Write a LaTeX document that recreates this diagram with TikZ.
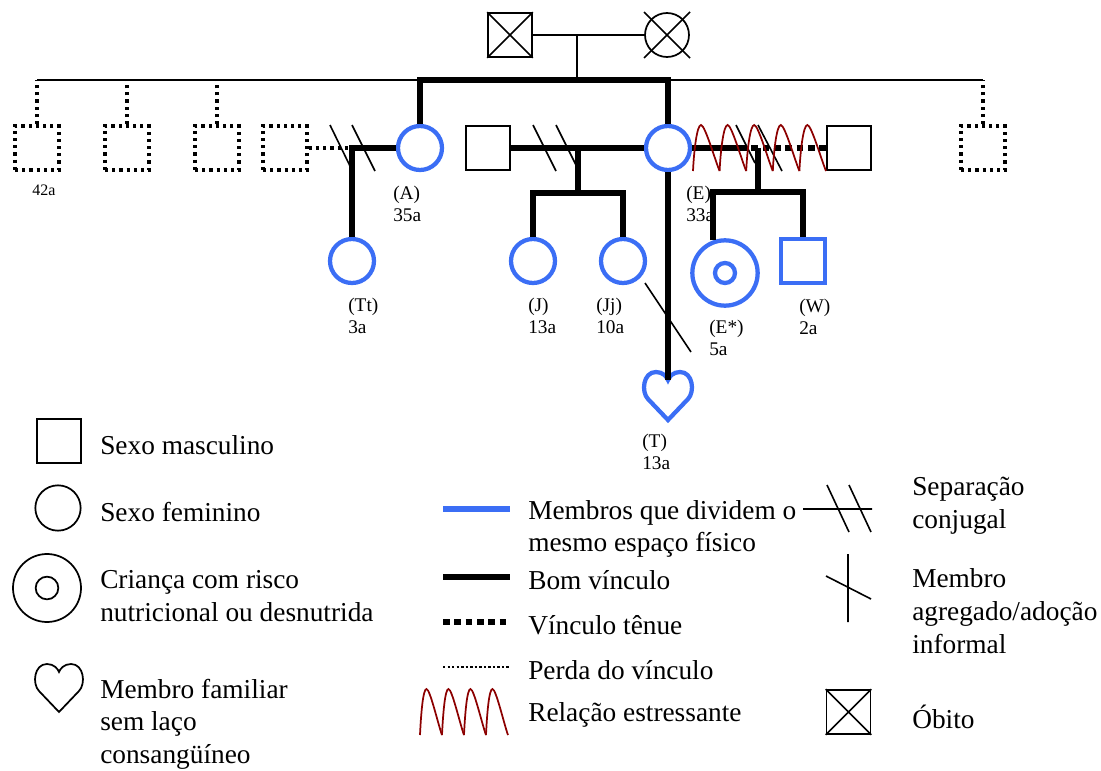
\documentclass[tikz,border=0pt]{standalone}
\usepackage{fontspec}
\setmainfont{Liberation Serif}
\definecolor{housecol}{RGB}{59,110,245}
\definecolor{stresscol}{RGB}{140,0,0}
\tikzset{
  person/.style={draw, line width=1.3pt, minimum size=33pt, inner sep=0pt},
  male/.style={person, rectangle},
  female/.style={person, circle},
  home/.style={draw=housecol, line width=3.2pt},
  lostone/.style={line width=2.6pt, dash pattern=on 2.4pt off 3pt},
  goodlink/.style={line width=5pt},
  weaklink/.style={line width=5pt, dash pattern=on 5pt off 3.5pt},
  lostlink/.style={line width=2pt, dash pattern=on 1.8pt off 1.6pt},
  thinlink/.style={line width=1.2pt},
  stress/.style={draw=stresscol, line width=1.3pt},
  lbl/.style={anchor=west, align=left, inner sep=0pt, font=\fontsize{14.5}{16.5}\selectfont},
  keytext/.style={anchor=west, align=left, inner sep=0pt, font=\fontsize{20.5}{24.5}\selectfont},
  heart/.pic={\draw (0,40) -- (-20,19) .. controls (-27,12) and (-25,-8) .. (-12,-8) .. controls (-5,-8) and (-1,-3) .. (0,0) .. controls (1,-3) and (5,-8) .. (12,-8) .. controls (25,-8) and (27,12) .. (20,19) -- cycle;}
}
\begin{document}
\begin{tikzpicture}[x=0.75pt,y=-0.75pt]
\useasboundingbox (0,0) rectangle (1101,771);

% grandparents (deceased)
\node[male] (gf) at (510,35) {};
\node[female] (gm) at (667,35) {};
\draw[thinlink] (gf.north west) -- (gf.south east) (gf.south west) -- (gf.north east);
\draw[thinlink] (gm.center) +(-23,-23) -- +(23,23) (gm.center) +(-23,23) -- +(23,-23);
\coordinate (wed) at (577,35);
\coordinate (sib) at (577,80);
\draw[thinlink] (gf) -- (gm);
\draw[thinlink] (wed) -- (sib);

% brothers and sisters
\node[male, lostone] (u1) at (37,148) {};
\node[male, lostone] (u2) at (127,148) {};
\node[male, lostone] (u3) at (217,148) {};
\node[male, lostone] (u5) at (983,148) {};
\node[male, lostone] (pA) at (285,148) {};
\node[female, home] (A) at (420,148) {};
\node[male] (pE1) at (488,148) {};
\node[female, home] (E) at (668,148) {};
\node[male] (pE2) at (849,148) {};
\draw[thinlink] (u1 |- sib) -- (u5 |- sib);
\foreach \u in {u1,u2,u3,u5}
  \draw[lostone] (\u.north) -- (\u |- sib);
\draw[goodlink] (A.north) |- (sib) -| (E.north);

% children
\node[female, home] (Tt) at (352,261) {};
\node[female, home] (J) at (533,261) {};
\node[female, home] (Jj) at (623,261) {};
\node[female, home, minimum size=49pt] (Es) at (725,273) {};
\node[female, home, minimum size=15pt] (Esin) at (Es) {};
\node[male, home] (W) at (803,261) {};
\coordinate (T) at (668,380);
\pic[color=housecol, line width=3.2pt] at (T) {heart};

% A
\coordinate (aT) at (352,148);
\draw[lostone] (pA) -- (aT);
\draw[goodlink] (A) -- (aT) -- (Tt);
\draw[thinlink] (330,125) -- (350,166) (352,125) -- (375,171);

% E and first partner
\coordinate (kJ) at (578,148);
\coordinate (kJbar) at (578,193);
\draw[goodlink] (pE1) -- (E);
\draw[goodlink] (kJ) -- (kJbar);
\draw[goodlink] (J) |- (kJbar) -| (Jj);
\draw[thinlink] (533,125) -- (556,171) (556,125) -- (576,165);
\draw[goodlink] (E) -- (T);
\draw[thinlink] (645,283) -- (691,352);

% E and second partner
\coordinate (eS) at (740,148);
\coordinate (kE) at (758,148);
\coordinate (kEbar) at (758,192);
\draw[goodlink] (E) -- (eS);
\draw[weaklink] (eS) -- (pE2);
\draw[goodlink] (kE) -- (kEbar);
\draw[goodlink] (Es.110) |- (kEbar) -| (W);
\draw[thinlink] (736,125) -- (755,163) (758,125) -- (782,171);
\foreach \k in {0,...,4}{
  \pgfmathsetmacro\zx{693+26.6*\k}
  \draw[stress] (\zx,171) .. controls (\zx+1,150) and (\zx+4,125) .. (\zx+8,125)
    .. controls (\zx+12,125) and (\zx+22,160) .. (\zx+26.6,171);
}

% names and ages
\node[lbl, font=\fontsize{12}{14}\selectfont] (l1) at (32,190) {42a};
\node[lbl] (lA) at (393,204) {(A)\\35a};
\node[lbl] (lE) at (686,204) {(E)\\33a};
\node[lbl] (lTt) at (348,316) {(Tt)\\3a};
\node[lbl] (lJ) at (528,316) {(J)\\13a};
\node[lbl] (lJj) at (596,316) {(Jj)\\10a};
\node[lbl] (lEs) at (709,338) {(E*)\\5a};
\node[lbl] (lW) at (799,317) {(W)\\2a};
\node[lbl] (lT) at (642,452) {(T)\\13a};

% legend, left
\node[male] (kMale) at (59,441) {};
\node[keytext] (tMale) at (100,445) {Sexo masculino};
\node[female, minimum size=34pt] (kFem) at (58,508) {};
\node[keytext] (tFem) at (100,512) {Sexo feminino};
\node[female, minimum size=51pt] (kRisk) at (47,588) {};
\node[female, minimum size=17pt] (kRiskin) at (kRisk) {};
\node[keytext] (tRisk) at (100,596) {Criança com risco\\nutricional ou desnutrida};
\pic[line width=1.3pt] at (59,672) {heart};
\node[keytext] (tHeart) at (100,724) {Membro familiar\\sem laço\\consangüíneo};

% legend, middle
\draw[draw=housecol, line width=4.5pt] (443,509) -- (510,509);
\node[keytext] (tHome) at (528,529) {Membros que dividem o\\mesmo espaço físico};
\draw[goodlink] (443,577) -- (510,577);
\node[keytext] (tGood) at (528,580) {Bom vínculo};
\draw[weaklink] (443,622) -- (510,622);
\node[keytext] (tWeak) at (528,625) {Vínculo tênue};
\draw[lostlink] (443,667) -- (510,667);
\node[keytext] (tLost) at (528,670) {Perda do vínculo};
\foreach \k in {0,...,3}{
  \pgfmathsetmacro\zx{420+22*\k}
  \draw[stress] (\zx,735) .. controls (\zx+1,714) and (\zx+3,689) .. (\zx+6.5,689)
    .. controls (\zx+10,689) and (\zx+18,724) .. (\zx+22,735);
}
\node[keytext] (tStress) at (528,715) {Relação estressante};

% legend, right
\draw[thinlink] (803,509) -- (872,509) (827,485) -- (849,532) (849,485) -- (871,532);
\node[keytext] (tSep) at (912,506) {Separação\\conjugal};
\draw[thinlink] (848,554) -- (848,622) (826,576) -- (871,599);
\node[keytext] (tAdopt) at (912,611) {Membro\\agregado/adoção\\informal};
\node[male] (kDead) at (848.5,712) {};
\draw[thinlink] (kDead.north west) -- (kDead.south east) (kDead.south west) -- (kDead.north east);
\node[keytext] (tDead) at (912,717) {Óbito};

\end{tikzpicture}
\end{document}
